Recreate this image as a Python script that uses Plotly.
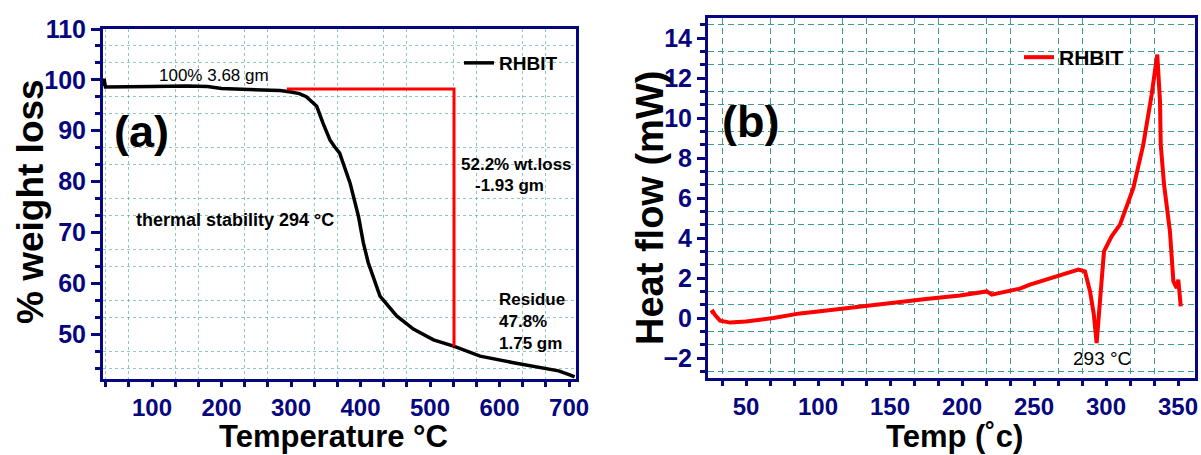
import plotly.graph_objects as go

# ---------------- data ----------------
tga_temp = [29, 31, 33, 40, 60, 100, 150, 180, 200, 230, 260, 284, 300, 312, 322,
            330, 337, 346, 356, 363, 370, 385, 397, 404, 411, 428, 452, 476, 505,
            535, 572, 620, 668, 685, 701, 708]
tga_weight = [98.8, 100.2, 98.6, 98.6, 98.6, 98.7, 98.8, 98.7, 98.3, 98.1, 98.0, 97.9,
              97.6, 97.3, 96.7, 95.8, 94.8, 91.5, 88.2, 86.8, 85.6, 79.7, 73.2, 68.0,
              64.1, 57.5, 53.6, 51.0, 48.9, 47.6, 45.7, 44.4, 43.1, 42.8, 42.0, 41.6]

loss_temp = [294, 534.5, 534.5]
loss_weight = [98.2, 98.2, 47.6]

dsc_temp = [25.5, 27, 28.5, 32, 39, 50, 69, 87.5, 100, 125, 150, 175, 198.6, 217.2,
            220.6, 230, 240.3, 247.2, 265.8, 280.8, 285.4, 288.9, 291.5, 293.5, 295.8,
            298.6, 304, 309.7, 319, 325.9, 331.7, 335.6, 337.5, 338, 340.3, 344.4, 346.8,
            349.1, 350.2, 351.9]
dsc_heat = [0.25, 0.32, 0.15, -0.13, -0.23, -0.18, 0.0, 0.23, 0.33, 0.55, 0.75, 0.95,
            1.12, 1.33, 1.17, 1.3, 1.47, 1.67, 2.08, 2.42, 2.33, 1.33, 0.2, -1.25, 0.83,
            3.33, 4.1, 4.67, 6.5, 8.67, 11.17, 13.17, 10.83, 8.67, 6.67, 4.33, 1.83, 1.5,
            1.92, 0.58]

series_name = "RHBIT"

# ---------------- styles ----------------
NAVY = "#06067f"
FONT = "Liberation Sans, Arial, sans-serif"
W, H = 1201, 455

fig = go.Figure()

fig.add_trace(go.Scatter(x=tga_temp, y=tga_weight, mode="lines", name=series_name,
                         line=dict(color="black", width=3.5), xaxis="x", yaxis="y",
                         legend="legend"))
fig.add_trace(go.Scatter(x=loss_temp, y=loss_weight, mode="lines", showlegend=False,
                         line=dict(color="#ff0000", width=3), xaxis="x", yaxis="y"))
fig.add_trace(go.Scatter(x=dsc_temp, y=dsc_heat, mode="lines", name=series_name,
                         line=dict(color="#ff0000", width=4), xaxis="x2", yaxis="y2",
                         legend="legend2"))


def axis(domain, rng, dtick, ndiv, griddash, gridcolor, anchor, ticklen=8, fsize=25):
    return dict(
        domain=domain, range=rng, dtick=dtick, tick0=0, anchor=anchor,
        showline=True, linewidth=3, linecolor=NAVY, mirror=True,
        ticks="outside", ticklen=ticklen, tickwidth=2.5, tickcolor=NAVY,
        tickfont=dict(family=FONT, size=fsize, color=NAVY, weight="bold"),
        showgrid=False, zeroline=False, automargin=False,
        minor=dict(dtick=dtick / ndiv, tick0=0, ticks="outside", ticklen=5,
                   tickwidth=2.5, tickcolor=NAVY, showgrid=True,
                   gridcolor=gridcolor, griddash=griddash, gridwidth=1),
    )


left_dom_x = [103 / W, 576 / W]
left_dom_y = [1 - 379 / H, 1 - 29 / H]
right_dom_x = [708 / W, 1195 / W]
right_dom_y = [1 - 378 / H, 1 - 18 / H]

fig.update_layout(
    width=W, height=H, margin=dict(l=0, r=0, t=0, b=0),
    paper_bgcolor="white", plot_bgcolor="white",
    xaxis=axis(left_dom_x, [29.5, 710], 100, 3, "dot", "rgba(60,150,150,0.55)", "y", 5, 24),
    yaxis=axis(left_dom_y, [41.2, 110], 10, 3, "dot", "rgba(60,150,150,0.55)", "x", 9, 25),
    xaxis2=axis(right_dom_x, [23.6, 361.8], 50, 3, "6px,4px", "#3f9a94", "y2", 5, 24),
    yaxis2=axis(right_dom_y, [-3, 15], 2, 3, "6px,4px", "#3f9a94", "x2", 8, 25),
    legend=dict(x=459 / W, y=1 - 44 / H, xanchor="left", yanchor="top",
                bgcolor="rgba(0,0,0,0)", font=dict(family=FONT, size=19, color="black", weight="bold")),
    legend2=dict(x=1019 / W, y=1 - 37 / H, xanchor="left", yanchor="top",
                 bgcolor="rgba(0,0,0,0)", font=dict(family=FONT, size=21, color="black", weight="bold")),
)

ann = []


def txt(text, x, y, size, xref, yref, bold=True, xanchor="center", align="center",
        angle=0, yanchor="middle"):
    ann.append(dict(text=text, x=x, y=y, xref=xref, yref=yref, showarrow=False,
                    xanchor=xanchor, yanchor=yanchor, align=align, textangle=angle,
                    borderpad=0,
                    font=dict(family=FONT, size=size, color="black",
                              weight="bold" if bold else "normal")))


# panel (a)
txt("100% 3.68 gm", 189.2, 100.8, 17, "x", "y", bold=False)
txt("(a)", 85.6, 89.8, 45, "x", "y")
txt("52.2% wt.loss", 623.7, 83.3, 17, "x", "y")
txt("-1.93 gm", 613.7, 79.2, 17, "x", "y")
txt("thermal stability 294 °C", 220.1, 72.5, 18, "x", "y")
txt("Residue<br>47.8%<br>1.75 gm", 597.8, 52.5, 17, "x", "y", xanchor="left", align="left")
# panel (b)
txt("(b)", 52.8, 9.8, 45, "x2", "y2")
txt("293 °C", 297.2, -2.0, 19, "x2", "y2", bold=False)
# axis titles
txt("% weight loss", 30 / W, 1 - 202 / H, 37, "paper", "paper", angle=-90)
txt("Temperature °C", 333 / W, 0, 31, "paper", "paper", yanchor="bottom")
txt("Heat flow (mW)", 650 / W, 1 - 208 / H, 38, "paper", "paper", angle=-90)
txt("Temp (˚c)", 954 / W, 0, 31, "paper", "paper", yanchor="bottom")

fig.update_layout(annotations=ann)

fig.write_html("out.html")
